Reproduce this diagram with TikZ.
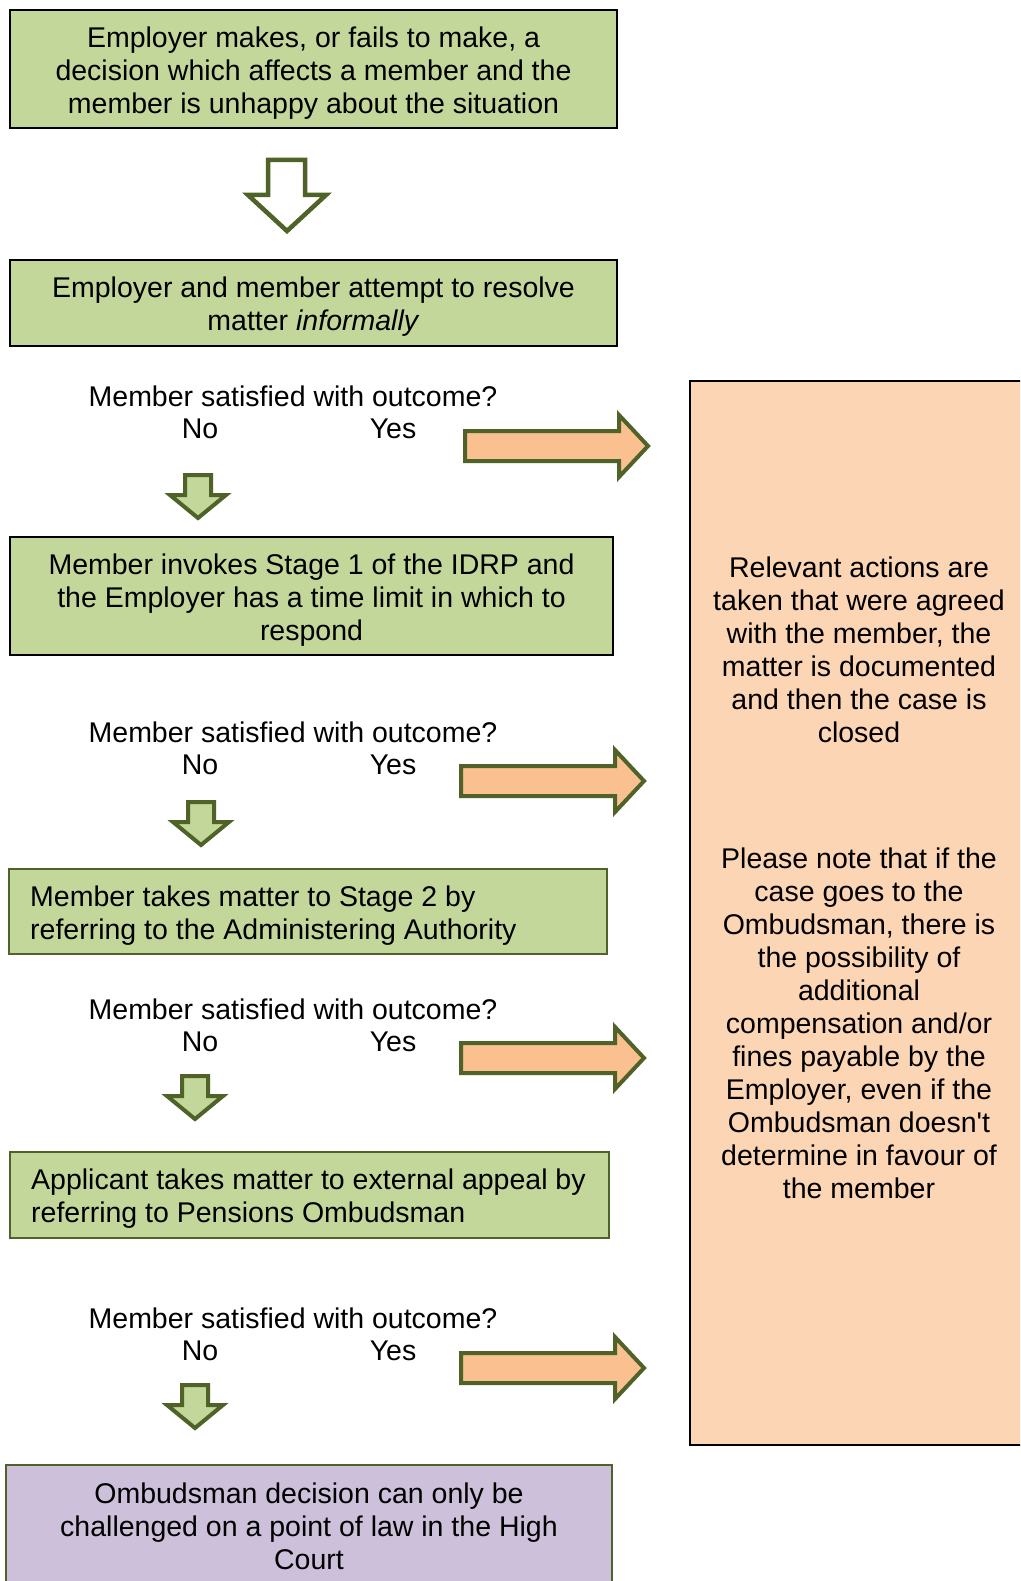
\documentclass[tikz,border=0pt]{standalone}
\usepackage{fontspec}
\setmainfont{Liberation Sans}
\definecolor{boxgreen}{RGB}{196,215,155}
\definecolor{olivedk}{RGB}{79,98,40}
\definecolor{orangefill}{RGB}{250,192,144}
\definecolor{peach}{RGB}{252,213,181}
\definecolor{lilac}{RGB}{204,192,218}
\tikzset{
  txt/.style={font=\fontsize{28.5}{33}\selectfont, inner sep=0pt},
  kbox/.style={draw=black, line width=2pt, fill=boxgreen, inner sep=0pt},
  lbox/.style={draw=olivedk, line width=2pt, fill=boxgreen, inner sep=0pt},
  pbox/.style={draw=olivedk, line width=2pt, fill=lilac, inner sep=0pt},
  rbox/.style={draw=black, line width=2.5pt, fill=peach, inner sep=0pt},
  hollowarr/.style={draw=olivedk, line width=4.5pt, fill=white, line join=miter},
  garr/.style={draw=olivedk, line width=4pt, fill=boxgreen, line join=miter},
  oarr/.style={draw=olivedk, line width=4pt, fill=orangefill, line join=miter},
  lbl/.style={txt, align=center},
  ltxt/.style={txt, align=left, anchor=west}
}
\newcommand{\greenarrow}[2]{%
  \draw[garr] (#1-13,#2+2) -- (#1+13,#2+2) -- (#1+13,#2+22) -- (#1+28,#2+22)
    -- (#1,#2+45) -- (#1-28,#2+22) -- (#1-13,#2+22) -- cycle;}
\newcommand{\orangearrow}[2]{%
  \draw[oarr] (#1,#2-15) -- (#1+154,#2-15) -- (#1+154,#2-31) -- (#1+183,#2)
    -- (#1+154,#2+31) -- (#1+154,#2+15) -- (#1,#2+15) -- cycle;}
\begin{document}
\begin{tikzpicture}[x=1pt,y=-1pt]
\clip (0,0) rectangle (1020,1581);
\fill[white] (0,0) rectangle (1020,1581);

% right box
\node[rbox, minimum width=338, minimum height=1064] (side) at (859,913) {};
\node[lbl] (side1) at (859,649.5) {Relevant actions are\\taken that were agreed\\with the member, the\\matter is documented\\and then the case is\\closed};
\node[lbl] (side2) at (859,1023.5) {Please note that if the\\case goes to the\\Ombudsman, there is\\the possibility of\\additional\\compensation and/or\\fines payable by the\\Employer, even if the\\Ombudsman doesn\textquotesingle t\\determine in favour of\\the member};

% boxes
\node[kbox, minimum width=607, minimum height=118] (b1) at (313.5,69) {};
\node[lbl] (t1) at (313.5,73) {Employer makes, or fails to make, a\\decision which affects a member and the\\member is unhappy about the situation};
\node[kbox, minimum width=607, minimum height=86] (b2) at (313.5,303) {};
\node[lbl] (t2) at (313.5,307) {Employer and member attempt to resolve\\matter \textit{informally}};
\node[kbox, minimum width=603, minimum height=118] (b3) at (311.5,596) {};
\node[lbl] (t3) at (311.5,600) {Member invokes Stage 1 of the IDRP and\\the Employer has a time limit in which to\\respond};
\node[lbox, minimum width=598, minimum height=85] (b4) at (308,911.5) {};
\node[ltxt] (t4) at (30,915.5) {Member takes matter to Stage 2 by\\referring to the Administering Authority};
\node[lbox, minimum width=599, minimum height=86] (b5) at (309.5,1195) {};
\node[ltxt] (t5) at (31,1199) {Applicant takes matter to external appeal by\\referring to Pensions Ombudsman};
\node[pbox, minimum width=606, minimum height=127] (b6) at (309,1528.5) {};
\node[lbl] (t6) at (309,1526.5) {Ombudsman decision can only be\\challenged on a point of law in the High\\Court};

% hollow arrow
\draw[hollowarr] (268,160) -- (305,160) -- (305,195) -- (326,195) -- (287,231) -- (248,195) -- (268,195) -- cycle;

% question labels
\node[lbl] (q1) at (293,396) {Member satisfied with outcome?};
\node[lbl] (n1) at (200,429) {No};
\node[lbl] (y1) at (393,429) {Yes};
\node[lbl] (q2) at (293,732) {Member satisfied with outcome?};
\node[lbl] (n2) at (200,765) {No};
\node[lbl] (y2) at (393,765) {Yes};
\node[lbl] (q3) at (293,1009) {Member satisfied with outcome?};
\node[lbl] (n3) at (200,1042) {No};
\node[lbl] (y3) at (393,1042) {Yes};
\node[lbl] (q4) at (293,1318) {Member satisfied with outcome?};
\node[lbl] (n4) at (200,1351) {No};
\node[lbl] (y4) at (393,1351) {Yes};

% green arrows
\greenarrow{198}{473}
\greenarrow{201}{800}
\greenarrow{195}{1074}
\greenarrow{195}{1383}

% orange arrows
\orangearrow{465}{446}
\orangearrow{461}{781}
\orangearrow{461}{1058}
\orangearrow{461}{1368}
\end{tikzpicture}
\end{document}
